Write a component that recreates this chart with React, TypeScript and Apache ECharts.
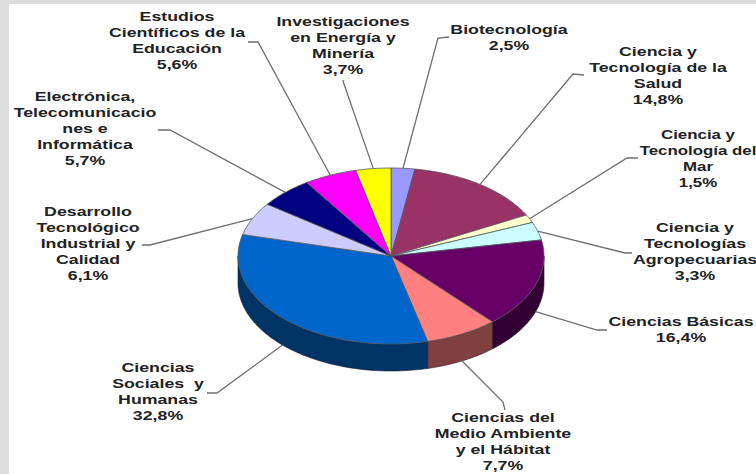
import React, { useEffect, useRef } from "react";
import * as echarts from "echarts";

// Research-area shares, clockwise from twelve o'clock.
const areaNames = [
  "Biotecnología",
  "Ciencia y\nTecnología de la\nSalud",
  "Ciencia y\nTecnología del\nMar",
  "Ciencia y\nTecnologías\nAgropecuarias",
  "Ciencias Básicas",
  "Ciencias del\nMedio Ambiente\ny el Hábitat",
  "Ciencias\nSociales  y\nHumanas",
  "Desarrollo\nTecnológico\nIndustrial y\nCalidad",
  "Electrónica,\nTelecomunicacio\nnes e\nInformática",
  "Estudios\nCientíficos de la\nEducación",
  "Investigaciones\nen Energía y\nMinería",
];
const shareLabels = ["2,5%", "14,8%", "1,5%", "3,3%", "16,4%", "7,7%", "32,8%", "6,1%", "5,7%", "5,6%", "3,7%"];
const shareValues = [2.5, 14.8, 1.5, 3.3, 16.4, 7.7, 32.8, 6.1, 5.7, 5.6, 3.7];

const topColors = ["#9999FF", "#993366", "#FFFFCC", "#CCFFFF", "#660066", "#FF8080", "#0066CC", "#CCCCFF", "#000080", "#FF00FF", "#FFFF00"];
const wallColors = ["#4D4D80", "#4D1A33", "#808066", "#668080", "#330033", "#804040", "#003366", "#666680", "#000040", "#800080", "#808000"];

// Label block centres: [x, first line y].
const labelCenters = [
  [509, 30], [658, 52], [698, 135], [695, 228], [681, 322], [503, 418],
  [158, 368], [88, 212], [85, 97], [177, 17], [343, 22],
];
// Horizontal stretch of each label block; the Mar block is narrowed to stay on the page.
const labelStretch = [1.42, 1.42, 1.35, 1.42, 1.42, 1.42, 1.42, 1.42, 1.42, 1.42, 1.42];
// Elbow of each leader, from the label side towards the pie.
const leaderStubs = [
  [[449, 37], [438, 38]],
  [[584, 75], [573, 74]],
  [[638, 158], [627, 158]],
  [[632, 253], [625, 253]],
  [[607, 330], [597, 330]],
  [[505, 410], [503, 402]],
  [[207, 393], [217, 393]],
  [[142, 245], [150, 245]],
  [[158, 130], [170, 130]],
  [[248, 42], [258, 42]],
  [[343, 80], [344, 84]],
];

const CX = 391;
const CY = 256;
const RX = 153;
const RY = 88;
const DEPTH = 27;

const total = shareValues.reduce((a, b) => a + b, 0);
const startAngles: number[] = [];
shareValues.reduce((acc, v) => {
  startAngles.push((acc / total) * Math.PI * 2);
  return acc + v;
}, 0);

const rimPoint = (a: number, dy = 0) => [CX + RX * Math.sin(a), CY - RY * Math.cos(a) + dy];

const arcPoints = (a0: number, a1: number, dy = 0) => {
  const steps = Math.max(2, Math.ceil((a1 - a0) / 0.02));
  const pts: number[][] = [];
  for (let i = 0; i <= steps; i++) pts.push(rimPoint(a0 + ((a1 - a0) * i) / steps, dy));
  return pts;
};

const sliceRange = (i: number) => {
  const a0 = startAngles[i];
  return [a0, a0 + (shareValues[i] / total) * Math.PI * 2];
};

// Outer wall of a slice: only the front half of the rim is visible.
const renderWall = (params: any) => {
  const i = params.dataIndex;
  const [a0, a1] = sliceRange(i);
  const lo = Math.max(a0, Math.PI / 2);
  const hi = Math.min(a1, (Math.PI * 3) / 2);
  if (hi <= lo) return { type: "group", children: [] };
  const points = [...arcPoints(lo, hi), ...arcPoints(lo, hi, DEPTH).reverse()];
  return {
    type: "polygon",
    shape: { points },
    style: { fill: wallColors[i], stroke: "#1c1c2a", lineWidth: 0.6 },
  };
};

const renderTop = (params: any) => {
  const i = params.dataIndex;
  const [a0, a1] = sliceRange(i);
  return {
    type: "polygon",
    shape: { points: [[CX, CY], ...arcPoints(a0, a1)] },
    style: { fill: topColors[i], stroke: "#55555f", lineWidth: 0.8 },
  };
};

const renderLabel = (params: any) => {
  const i = params.dataIndex;
  const [a0, a1] = sliceRange(i);
  const mid = (a0 + a1) / 2;
  const front = Math.cos(mid) < -0.2;
  const tip = rimPoint(mid, front ? DEPTH : 0);
  const [cx, cy] = labelCenters[i];
  return {
    type: "group",
    children: [
      {
        type: "polyline",
        shape: { points: [...leaderStubs[i], tip] },
        style: { fill: "none", stroke: "#6f6f6f", lineWidth: 1.3 },
      },
      {
        type: "text",
        x: cx,
        y: cy - 8,
        scaleX: labelStretch[i],
        style: {
          x: 0,
          y: 0,
          text: `${areaNames[i]}\n${shareLabels[i]}`,
          font: 'bold 12.5px "Liberation Sans", sans-serif',
          lineHeight: 16,
          align: "center",
          verticalAlign: "top",
          fill: "#222222",
        },
      },
    ],
  };
};

export default function App() {
  const ref = useRef<HTMLDivElement>(null);

  useEffect(() => {
    const chart = echarts.init(ref.current!, undefined, { renderer: "svg" });
    chart.setOption({
      animation: false,
      backgroundColor: "#ffffff",
      graphic: [
        { type: "rect", z: 0, shape: { x: 0, y: 0, width: 756, height: 4 }, style: { fill: "#dddddd" } },
        { type: "rect", z: 0, shape: { x: 0, y: 0, width: 9, height: 474 }, style: { fill: "#dddddd" } },
      ],
      series: [
        { type: "custom", coordinateSystem: "none", z: 2, silent: true, data: shareValues, renderItem: renderWall },
        { type: "custom", coordinateSystem: "none", z: 3, silent: true, data: shareValues, renderItem: renderLabel },
        { type: "custom", coordinateSystem: "none", z: 4, silent: true, data: shareValues, renderItem: renderTop },
      ],
    });
    return () => chart.dispose();
  }, []);

  return <div ref={ref} style={{ position: "absolute", left: 0, top: 0, width: 756, height: 474 }} />;
}
